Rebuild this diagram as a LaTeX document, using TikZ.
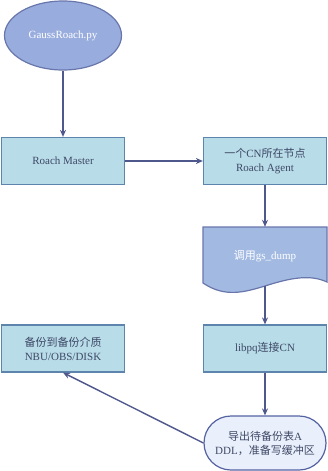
\documentclass[tikz,border=0pt]{standalone}
\usepackage{fontspec}
\setmainfont{Liberation Serif}
\newfontfamily\cjk{Noto Sans CJK SC}
\usetikzlibrary{positioning, arrows.meta, shapes.geometric, calc}
\definecolor{startcolor}{RGB}{152, 172, 222}
\definecolor{startline}{RGB}{104, 118, 172}
\definecolor{boxcolor}{RGB}{184, 220, 232}
\definecolor{boxline}{RGB}{92, 132, 172}
\definecolor{doccolor}{RGB}{162, 186, 226}
\definecolor{endcolor}{RGB}{234, 240, 251}
\definecolor{endline}{RGB}{84, 98, 162}
\definecolor{arrowcolor}{RGB}{78, 88, 140}
\definecolor{textcolor}{RGB}{62, 72, 102}

\begin{document}
\begin{tikzpicture}[x=1pt, y=-1pt, font=\fontsize{11}{14}\selectfont,
    stepbox/.style={draw=boxline, line width=1.2pt, fill=boxcolor,
      minimum width=123pt, minimum height=47pt, align=center,
      text=textcolor, inner sep=0pt},
    flow/.style={draw=arrowcolor, line width=1.4pt, -{Stealth[length=7pt, width=6pt]}}]
  \useasboundingbox (0,0) rectangle (328,471);

  % start
  \node[ellipse, draw=startline, line width=1.2pt, fill=startcolor,
        minimum width=117pt, minimum height=69pt, text=white] (start)
    at (63,35.5) {GaussRoach.py};

  \node[stepbox] (master) at (63,161) {Roach Master};
  \node[stepbox] (agent) at (265,161)
    {{\cjk 一个}CN{\cjk 所在节点}\\Roach Agent};

  % document shape
  \draw[draw=startline, line width=1.2pt, fill=doccolor]
    (203,227) -- (327,227) -- (327,282)
    .. controls (310,274) and (290,278) .. (265,286)
    .. controls (245,292) and (225,298) .. (203,283) -- cycle;
  \node[minimum width=124pt, minimum height=59pt, text=white, inner sep=0pt] (dump)
    at (265,256.5) {{\cjk 调用}gs\_dump};

  \node[stepbox] (libpq) at (265,348.5) {libpq{\cjk 连接}CN};
  \node[stepbox] (backup) at (63,348.5)
    {{\cjk 备份到备份介质}\\NBU/OBS/DISK};

  % end
  \node[draw=endline, line width=1.2pt, fill=endcolor, rounded corners=27pt,
        minimum width=122pt, minimum height=54pt, align=center,
        text=textcolor, inner sep=0pt] (export) at (265,443)
    {{\cjk 导出待备份表}A\\DDL{\cjk ，准备写缓冲区}};

  \draw[flow] (start) -- (master);
  \draw[flow] (master) -- (agent);
  \draw[flow] (agent) -- (dump.north);
  \draw[flow] (dump.south) -- (libpq);
  \draw[flow] (libpq) -- (export);
  \draw[flow] (export.west) -- (backup.south);
\end{tikzpicture}
\end{document}
